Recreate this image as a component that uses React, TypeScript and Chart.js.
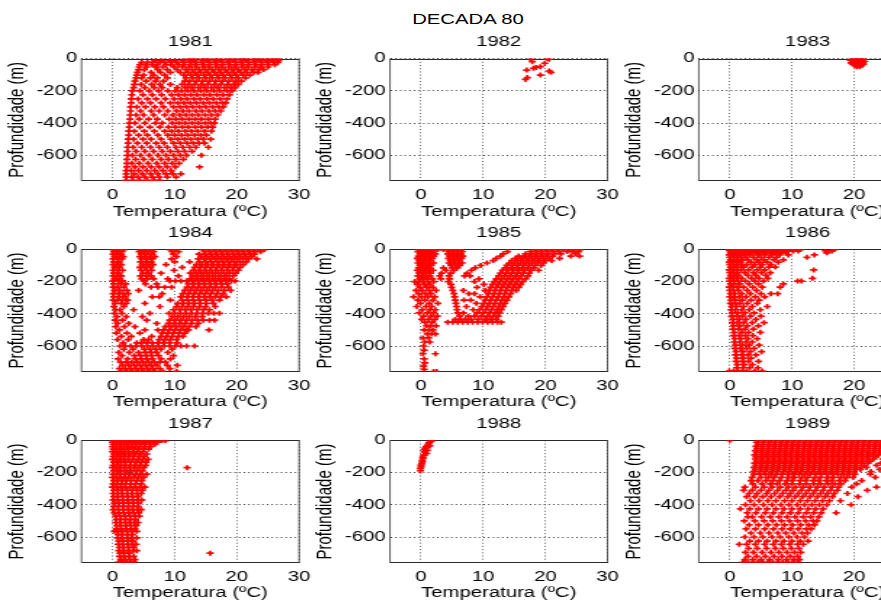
import React, { useEffect, useRef } from "react";
import { Chart, registerables } from "chart.js";

Chart.register(...registerables);

type Rows = [number, number[]][];

// ---------- texts / ticks ----------
const SUPTITLE = "DECADA 80";
const YEARS = ["1981", "1982", "1983", "1984", "1985", "1986", "1987", "1988", "1989"];
const X_LABEL = "Temperatura (ºC)";
const Y_LABEL = "Profundidade (m)";
const X_TICKS = [0, 10, 20, 30];
const Y_TICKS = [0, -200, -400, -600];
const X_MIN = -5;
const X_MAX = 30;
const Y_MIN = -760;
const Y_MAX = 0;

// ---------- data: [depth (m), temperatures (ºC)] ----------
const T1981: Rows = [
  [-2, [12.2, 13.1, 14.3, 15.2, 16.4, 17.3, 18.5, 19.4, 20.6, 21.5, 22.7, 23.6, 24.8, 25.7, 26.6]],
  [-12, [6.8, 7.9, 9.2, 10.1, 11.3, 12.4, 13.2, 14.5, 15.3, 16.6, 17.4, 18.7, 19.5, 20.8, 21.6, 22.9, 23.7, 24.9, 25.8, 26.7]],
  [-24, [4.7, 5.6, 6.5, 7.6, 8.4, 9.5, 10.3, 11.4, 12.5, 13.3, 14.4, 15.6, 16.5, 17.7, 18.6, 19.8, 20.7, 21.9, 22.8, 24, 24.9, 25.9, 26.6]],
  [-38, [4.4, 5.3, 6.4, 7.2, 8.6, 9.4, 10.6, 11.5, 12.6, 13.5, 14.7, 15.6, 16.8, 17.7, 18.9, 19.8, 21, 21.9, 23.1, 24, 25.1, 26.1]],
  [-52, [4.3, 5.5, 6.9, 8.1, 9.9, 11.2, 12.3, 13.4, 14.5, 15.5, 16.6, 17.6, 18.7, 19.7, 20.8, 21.8, 22.9, 23.9, 25]],
  [-68, [4.2, 5.1, 7.3, 8.8, 10.4, 11.8, 12.8, 13.9, 14.9, 16, 17.1, 18.1, 19.2, 20.2, 21.3, 22.4, 23.5, 24.3]],
  [-85, [4, 6.2, 7.7, 9.3, 10.9, 12.1, 13.2, 14.2, 15.3, 16.4, 17.4, 18.5, 19.5, 20.6, 21.6, 22.7, 23.4]],
  [-102, [3.9, 5, 6.6, 8.4, 11.5, 12.6, 13.6, 14.7, 15.7, 16.8, 17.8, 18.9, 19.9, 21, 22.1]],
  [-120, [3.8, 4.7, 6.1, 7.2, 8.8, 11.8, 12.9, 13.9, 15, 16, 17.1, 18.1, 19.2, 20.2, 21.4]],
  [-140, [3.6, 5.4, 6.9, 8.2, 11.6, 12.4, 13.5, 14.5, 15.6, 16.6, 17.7, 18.7, 19.8, 20.7]],
  [-160, [3.5, 4.6, 6.3, 7.6, 9.3, 11.2, 12.2, 13.2, 14.3, 15.3, 16.4, 17.4, 18.5, 19.5, 20.2]],
  [-180, [3.4, 5.2, 6.7, 8, 10.4, 11.7, 12.7, 13.8, 14.8, 15.9, 16.9, 18, 19, 19.7]],
  [-200, [3.2, 4.4, 5.9, 7.4, 8.9, 10.1, 11.1, 12.1, 13.1, 14.2, 15.2, 16.3, 17.3, 18.4, 19.2]],
  [-225, [3.1, 4.9, 6.4, 7.9, 9.5, 10.6, 11.6, 12.6, 13.6, 14.7, 15.7, 16.8, 17.8, 18.8]],
  [-250, [3, 4.1, 5.6, 7, 8.5, 9.9, 11, 12, 13.1, 14.1, 15.2, 16.2, 17.3, 18.4]],
  [-275, [3, 4.7, 6.1, 7.8, 9.3, 10.5, 11.5, 12.5, 13.5, 14.6, 15.6, 16.7, 17.7, 18.2]],
  [-300, [2.9, 3.9, 5.3, 6.8, 8.2, 9.8, 10.9, 11.9, 12.9, 14, 15, 16.1, 17.1, 17.8]],
  [-325, [2.9, 4.5, 6.2, 7.5, 8.9, 10.3, 11.3, 12.3, 13.4, 14.4, 15.5, 16.5, 17.4]],
  [-350, [2.8, 3.8, 5, 6.6, 8.4, 9.7, 10.8, 11.8, 12.8, 13.8, 14.9, 15.9, 16.9]],
  [-375, [2.8, 4.3, 5.8, 7.2, 9.1, 10.2, 11.2, 12.3, 13.3, 14.3, 15.4, 16.5]],
  [-400, [2.7, 3.6, 5.2, 6.9, 8, 9.6, 10.7, 11.7, 12.8, 13.8, 14.9, 15.8, 16.4]],
  [-425, [2.7, 4.4, 6, 7.6, 9, 10.1, 11.2, 12.2, 13.3, 14.3, 15.3, 16.1]],
  [-450, [2.6, 3.5, 5.1, 6.7, 8.4, 9.5, 10.6, 11.7, 12.7, 13.7, 14.8, 15.9]],
  [-475, [2.6, 4.2, 5.6, 7.3, 8.9, 10, 11.1, 12.1, 13.2, 14.2, 15.1]],
  [-500, [2.5, 3.4, 4.9, 6.2, 7.8, 9.4, 10.5, 11.6, 12.6, 13.7, 14.6, 15.8]],
  [-525, [2.5, 4, 5.5, 7, 8.3, 9.8, 10.9, 12, 13, 13.9, 14.8]],
  [-550, [2.4, 3.3, 4.7, 6.1, 7.5, 8.8, 10.2, 11.3, 12.4, 13.4, 15.4]],
  [-575, [2.4, 3.8, 5.2, 6.6, 8, 9.3, 10.5, 11.6, 12.8]],
  [-600, [2.4, 3.2, 4.5, 5.9, 7.3, 8.6, 9.8, 10.9, 11.9, 14.3]],
  [-625, [2.3, 3.7, 5, 6.4, 7.8, 9, 10.2, 11.4]],
  [-650, [2.3, 3.1, 4.3, 5.7, 7.1, 8.4, 9.6, 10.7]],
  [-672, [2.3, 3.6, 4.9, 6.2, 7.5, 8.8, 10.1, 14]],
  [-695, [2.2, 3, 4.2, 5.5, 6.8, 8.1, 9.4]],
  [-715, [2.2, 3.5, 4.8, 6.1, 7.3, 8.6, 9.7, 11]],
  [-735, [2.2, 3.1, 4.1, 5.2, 6.4, 7.5, 8.8, 10.2]],
  [-755, [2.2, 3.3, 4.4, 5.6, 6.7, 7.6]],
];

const T1982: Rows = [
  [0, [17.6, 20.3]],
  [-4, [20.6]],
  [-19, [17.9]],
  [-29, [19.9]],
  [-50, [19.2]],
  [-55, [18.5]],
  [-60, [18.1]],
  [-71, [17]],
  [-77, [20.6]],
  [-85, [20.9]],
  [-102, [19.2]],
  [-118, [17.1]],
  [-129, [16.8]],
];

const T1983: Rows = [
  [-2, [19.8, 20.4, 21, 21.5]],
  [-10, [19.4, 20.1, 20.7, 21.3]],
  [-18, [19.9, 20.5, 21.1, 21.7]],
  [-26, [19.5, 20.2, 20.8, 21.4]],
  [-34, [19.8, 20.4, 21, 21.5]],
  [-42, [20.1, 20.7, 21.2]],
  [-50, [20.4, 20.9]],
];

const T1984: Rows = [
  [-2, [0.1, 0.6, 1.2, 1.8, 4.5, 5.3, 6.1, 9.3, 10.2, 14.5, 15.4, 16.3, 17.2, 18.1, 19, 19.9, 20.8, 21.7, 22.6, 23.5, 24.4]],
  [-15, [0.2, 0.9, 1.5, 4.3, 5, 5.8, 6.6, 9.6, 10.6, 14.8, 15.7, 16.6, 17.5, 18.4, 19.3, 20.2, 21.1, 22, 22.9, 23.8]],
  [-30, [0.1, 0.7, 1.4, 4.6, 5.4, 6.3, 9.8, 13.9, 14.9, 15.8, 16.7, 17.6, 18.5, 19.4, 20.3, 21.2, 22.1, 22.8]],
  [-45, [0.3, 1.1, 1.7, 4.4, 5.2, 6, 6.8, 10.3, 14.3, 15.2, 16.1, 17, 17.9, 18.8, 19.7, 20.6, 21.5, 22.4]],
  [-60, [0.1, 0.8, 1.5, 4.7, 5.6, 6.4, 9.5, 13.8, 14.7, 15.6, 16.5, 17.4, 18.3, 19.2, 20.1, 21, 21.9, 23.2]],
  [-78, [0.2, 1, 4.5, 5.3, 6.2, 10, 12.4, 14, 15, 15.9, 16.9, 17.8, 18.7, 19.6, 20.5, 21.5]],
  [-95, [0.1, 0.7, 1.4, 4.8, 5.7, 6.5, 8.6, 13.5, 14.4, 15.3, 16.2, 17.1, 18, 18.9, 19.9, 21]],
  [-112, [0.3, 1.1, 4.4, 5.2, 6.1, 11.2, 13.2, 14.1, 15, 15.9, 16.8, 17.7, 18.6, 19.5, 20.5]],
  [-130, [0.1, 0.8, 1.6, 4.6, 5.5, 6.3, 9.9, 13, 13.9, 14.8, 15.7, 16.6, 17.5, 18.4, 19.3, 20.2]],
  [-148, [0.2, 1, 4.9, 5.8, 7.8, 12.5, 13.4, 14.3, 15.2, 16.1, 17, 17.9, 18.8, 19.8]],
  [-165, [0.1, 0.7, 1.4, 4.5, 5.4, 6.2, 10.6, 12.9, 13.8, 14.7, 15.6, 16.5, 17.4, 18.3, 19.4]],
  [-183, [0.3, 1.1, 4.7, 5.6, 6.6, 8.9, 12.5, 13.4, 14.3, 15.2, 16.1, 17, 17.9, 18.8]],
  [-196, [0.1, 0.9, 1.6, 5, 9.2, 10.1, 11, 11.9, 12.8, 13.7, 14.6, 15.5, 16.4, 17.3, 18.2, 19.1, 19.7]],
  [-215, [0.2, 1.3, 2.1, 5.3, 7.1, 12.2, 13.1, 14, 14.9, 15.8, 16.7, 17.6, 18.5]],
  [-235, [0.1, 0.8, 1.8, 6.2, 7.3, 8.4, 9.5, 12, 12.9, 13.8, 14.7, 15.6, 16.5, 17.5, 18.6]],
  [-255, [0.3, 1.2, 2.3, 4.2, 11.6, 12.5, 13.4, 14.3, 15.2, 16.1, 17, 18, 19]],
  [-275, [0.1, 0.9, 1.7, 2.5, 8, 11.3, 12.2, 13.1, 14, 14.9, 15.8, 16.8, 17.8]],
  [-295, [0.2, 1.1, 2, 6.4, 7.5, 11, 12, 12.9, 13.8, 14.7, 15.6, 16.5, 17.4, 18.3]],
  [-315, [0.1, 0.8, 1.6, 2.4, 9.3, 11.2, 12.1, 13, 14, 15, 16, 17.2]],
  [-335, [0.4, 1.4, 2.2, 5.2, 10.5, 11.4, 12.3, 13.2, 14.1, 15.1, 16.2]],
  [-355, [0.2, 1.8, 7.6, 10.3, 11.2, 12.1, 13, 14, 15, 16.5]],
  [-375, [0.5, 1.2, 3.4, 9.8, 10.8, 11.7, 12.6, 13.6, 14.6, 15.6]],
  [-397, [0.3, 1.5, 6, 9.1, 10, 10.9, 11.8, 12.7, 13.6, 14.5, 15.4, 16.3, 17.2]],
  [-418, [0.7, 2.2, 4.8, 9.6, 10.5, 11.4, 12.3, 13.3, 14.4]],
  [-440, [0.4, 1.6, 5.5, 9.2, 10.1, 11, 11.9, 12.8, 13.7, 14.6, 15.6, 16.4]],
  [-460, [0.8, 2.6, 7.1, 9, 9.9, 10.8, 11.7, 12.7, 13.8]],
  [-480, [0.5, 1.9, 3.6, 8.5, 9.4, 10.3, 11.3, 12.3, 13.4]],
  [-500, [1.1, 5.2, 7.3, 8.2, 9.1, 10, 10.9, 11.8, 12.2, 15.5]],
  [-520, [0.6, 2.3, 4.4, 8, 8.9, 9.8, 10.7, 11.6]],
  [-540, [1.4, 3, 6.3, 7.8, 8.7, 9.6, 10.6, 11.3]],
  [-560, [0.8, 2.5, 5, 5.8, 7.5, 8.4, 9.3, 10.3]],
  [-580, [1.7, 3.9, 4.6, 5.5, 6.4, 7.3, 8.2, 9.2, 10.4]],
  [-600, [1.2, 2, 2.9, 3.8, 4.7, 5.6, 6.5, 7.4, 8.3, 9.2, 10.1, 11, 11.9, 13.2]],
  [-620, [1.8, 3.3, 5.1, 6, 6.9, 7.8, 9.6]],
  [-640, [1, 2.7, 4.2, 5.3, 6.2, 7.1, 8.9]],
  [-660, [1.5, 3.5, 4.5, 5.4, 6.3, 7.4, 9.8]],
  [-680, [0.9, 2.4, 3.7, 4.6, 5.5, 6.4, 7.8, 9.3]],
  [-700, [1.3, 2.2, 3.1, 4, 4.9, 5.8, 6.7, 7.6, 8.5]],
  [-720, [1.6, 2.6, 3.5, 4.4, 5.3, 6.2, 7.1, 8.8, 10.4]],
  [-740, [1.1, 2, 2.9, 3.8, 4.7, 5.6, 6.5, 7.6, 9.2]],
  [-757, [1.4, 2.3, 3.2, 4.1, 5, 5.9, 6.8, 8.1, 10.3]],
];

const T1985: Rows = [
  [-2, [-0.3, 0.3, 0.9, 1.5, 2.1, 2.7, 3.6, 4.3, 5, 5.7, 6.4, 18.3, 19.2, 20.1, 21, 22, 22.9, 23.8, 24.6, 25.6]],
  [-14, [-0.5, 0.1, 0.7, 1.3, 1.9, 4.5, 5.2, 5.9, 6.6, 13.9, 17.6, 18.5, 19.4, 20.4, 21.3, 22.2, 23.5, 24.4, 25.3]],
  [-28, [-0.2, 0.4, 1, 1.6, 2.3, 4.3, 5, 5.7, 6.4, 13.2, 16.8, 17.7, 18.6, 19.5, 20.4, 21.4, 22.5, 24.9]],
  [-42, [-0.4, 0.2, 0.8, 1.4, 2, 4.6, 5.3, 6, 6.7, 12.8, 15.7, 16.6, 17.5, 18.4, 19.3, 20.2, 21.2, 24.1, 25.5]],
  [-56, [-0.6, 0, 0.6, 1.2, 1.8, 4.4, 5.1, 5.8, 6.5, 12.1, 15.2, 16.1, 17, 17.9, 18.8, 19.7, 20.6, 22.3]],
  [-70, [-0.3, 0.3, 0.9, 1.5, 4.7, 5.4, 6.1, 11.6, 14.6, 15.5, 16.4, 17.3, 18.2, 19.1, 20, 21]],
  [-85, [-0.5, 0.1, 0.7, 1.3, 2, 4.5, 5.2, 5.9, 6.6, 10.6, 14.2, 15.1, 16, 16.9, 17.8, 18.7, 19.7]],
  [-100, [-0.2, 0.4, 1, 1.6, 4.8, 5.5, 6.2, 9.6, 13.8, 14.7, 15.6, 16.5, 17.4, 18.3, 19.3]],
  [-115, [-0.4, 0.2, 0.8, 1.4, 3.6, 5, 5.8, 8.7, 13.6, 14.5, 15.4, 16.3, 17.2, 18.2]],
  [-130, [-0.6, 0, 0.6, 1.2, 1.9, 4, 5.3, 8.1, 13.1, 14, 14.9, 15.8, 16.7, 17.7, 18.9]],
  [-148, [-0.3, 0.3, 0.9, 1.5, 3.3, 4.8, 7.4, 12.8, 13.7, 14.6, 15.5, 16.4, 17.4]],
  [-165, [-0.5, 0.1, 0.7, 1.4, 3, 4.5, 7, 7.9, 12.5, 13.4, 14.3, 15.2, 16.1, 17.2]],
  [-183, [-0.2, 0.4, 1, 1.8, 3.2, 4.6, 9.3, 12.1, 13, 13.9, 14.8, 15.7, 16.8]],
  [-200, [-1, -0.4, 0.3, 1.1, 2, 4.4, 8.6, 11.8, 12.7, 13.6, 14.5, 15.4, 16.3]],
  [-218, [-0.6, 0.5, 1.4, 4.8, 10.1, 11.5, 12.4, 13.3, 14.2, 15.1, 16]],
  [-236, [-0.2, 0.9, 1.9, 4.9, 9, 11.2, 12.1, 13, 13.9, 14.8, 15.7]],
  [-255, [-0.8, 0.2, 1.3, 2.4, 5.1, 6.8, 10.3, 11, 11.9, 12.8, 13.7, 14.6, 15.3]],
  [-275, [-0.4, 0.7, 1.6, 5.3, 7.7, 8.6, 10.8, 11.7, 12.6, 13.5, 14.4]],
  [-295, [-1.2, 0.1, 1.1, 2.2, 5.4, 9.5, 10.6, 11.5, 12.4, 13.3, 14.1]],
  [-315, [-0.5, 0.6, 1.9, 5.5, 6.9, 8, 10.3, 11.2, 12.1, 13, 13.8]],
  [-335, [-0.1, 1.3, 2.7, 5.6, 8.9, 10.1, 11, 11.9, 12.8, 13.5]],
  [-355, [-0.7, 0.8, 1.7, 5.7, 7.3, 9.8, 10.7, 11.6, 12.5, 13.2]],
  [-375, [0.2, 1.4, 2.3, 5.8, 8.4, 9.4, 10.4, 11.3, 12.2, 12.9]],
  [-395, [-0.3, 1, 2, 5.9, 6.8, 9, 10, 11, 11.9, 12.6]],
  [-415, [0.4, 1.6, 2.6, 6.2, 7.6, 8.6, 9.7, 10.7, 11.6, 12.4]],
  [-435, [0.1, 1.2, 2.2, 5.5, 6.3, 7.1, 8, 9.2, 10.3, 11.2, 12.1]],
  [-452, [0.6, 1.8, 4.3, 5.1, 5.9, 6.7, 7.5, 8.3, 9.1, 9.9, 10.7, 11.5, 12.3, 12.9]],
  [-475, [0.9, 1.5, 2.4]],
  [-500, [0.5, 1.3, 1.9]],
  [-525, [1, 1.7, 2.3]],
  [-550, [0.3, 1.2]],
  [-575, [0.6, 1.4]],
  [-600, [0.4]],
  [-625, [0.5]],
  [-648, [0.3, 2.3]],
  [-680, [0.5]],
  [-705, [0.6]],
  [-725, [0.4]],
  [-745, [0.5]],
  [-758, [2, 2.5]],
];

const T1986: Rows = [
  [-2, [-0.1, 0.5, 1.1, 1.7, 2.3, 2.9, 3.5, 4.1, 4.7, 5.3, 5.9, 6.5, 7.1, 7.7, 8.3, 8.9, 9.5, 10.1, 10.7, 11.3, 16.8]],
  [-10, [0, 0.6, 1.2, 1.8, 2.4, 3, 3.6, 4.2, 4.8, 5.4, 6, 6.8, 7.6, 8.4, 9.3, 10.2, 11, 15.4, 16.4]],
  [-22, [0.1, 0.7, 1.3, 1.9, 2.5, 3.3, 4.1, 4.9, 5.7, 6.5, 7.3, 8.1, 9, 15.6]],
  [-35, [-0.1, 0.5, 1.1, 1.7, 2.4, 3.2, 4.5, 5.6, 6.8, 8, 9.4, 13.6]],
  [-50, [0, 0.6, 1.2, 1.8, 2.6, 3.8, 5, 6.3, 7.5, 12.4]],
  [-65, [0.1, 0.7, 1.3, 2, 2.9, 4.3, 5.5, 7.1, 8.6]],
  [-80, [-0.1, 0.5, 1.1, 1.7, 3.4, 4.7, 6, 7.8]],
  [-95, [0, 0.6, 1.2, 1.9, 2.7, 4, 5.2, 6.6]],
  [-110, [0.1, 0.7, 1.3, 2.2, 3.6, 4.9, 6.3, 7.3]],
  [-128, [-0.1, 0.5, 1.1, 1.8, 3, 4.4, 5.6, 13.5]],
  [-145, [0, 0.6, 1.2, 2.4, 3.8, 5.1, 6.5]],
  [-162, [0.1, 0.7, 1.4, 2.9, 4.2, 5.8]],
  [-180, [-0.1, 0.5, 1.1, 1.9, 3.5, 4.7, 6.1, 13.3]],
  [-197, [0, 0.6, 1.3, 2.5, 4, 5.4, 10.9, 11.5]],
  [-215, [0.1, 0.7, 1.6, 3.1, 4.6, 8.6]],
  [-235, [-0.1, 0.5, 1.2, 2.2, 3.7, 5.2, 8.1]],
  [-255, [0, 0.6, 1.4, 2.8, 4.3]],
  [-275, [0.1, 0.8, 1.9, 3.3, 5, 6.6, 7.7]],
  [-295, [0, 0.6, 1.5, 2.6, 4.1, 5.6]],
  [-315, [0.2, 0.9, 2, 3.4, 4.7]],
  [-335, [0.1, 0.8, 1.6, 2.8, 4.4]],
  [-355, [0.3, 1.1, 2.2, 3.6, 6]],
  [-375, [0.2, 0.9, 1.9, 3.1, 4.9]],
  [-395, [0.4, 1.3, 2.4, 3.9]],
  [-415, [0.3, 1.1, 2, 3.3, 5]],
  [-435, [0.5, 1.5, 2.6, 4.2]],
  [-455, [0.4, 1.2, 2.2, 3.6, 5.5]],
  [-475, [0.6, 1.6, 2.8, 4.6]],
  [-495, [0.5, 1.4, 2.4, 3.8]],
  [-515, [0.7, 1.9, 3, 4.9]],
  [-535, [0.6, 1.5, 2.5, 3.7]],
  [-555, [0.8, 1.8, 2.9, 4.4]],
  [-575, [0.7, 1.6, 2.6, 3.6]],
  [-595, [0.9, 2, 3.1, 4.7]],
  [-615, [0.8, 1.7, 2.7, 3.9]],
  [-635, [1, 2.1, 3.3, 5.1]],
  [-655, [0.9, 1.9, 2.9, 4.2]],
  [-675, [1.1, 2.2, 3.4]],
  [-695, [1, 2, 3, 4.6]],
  [-715, [1.2, 2.3, 3.6]],
  [-735, [1.1, 2.1, 3.2, 4.5]],
  [-755, [-0.1, 0.6, 1.3, 2, 2.7, 4, 5.2]],
];

const T1987: Rows = [
  [-2, [0.1, 0.7, 1.3, 1.9, 2.5, 3.1, 3.7, 4.3, 4.9, 5.5, 6.1, 6.7, 7.3, 7.9, 8.5]],
  [-12, [0, 0.6, 1.2, 1.8, 2.4, 3, 3.6, 4.2, 4.8, 5.4, 6, 6.6, 7.2]],
  [-25, [0.1, 0.7, 1.3, 1.9, 2.5, 3.1, 3.8, 4.5, 5.2, 6, 6.8]],
  [-40, [0, 0.6, 1.2, 1.8, 2.4, 3, 3.7, 4.4, 5.2, 6.1]],
  [-55, [0.1, 0.7, 1.3, 1.9, 2.6, 3.4, 4.2, 5, 5.8]],
  [-70, [0, 0.6, 1.2, 1.8, 2.5, 3.3, 4, 4.9]],
  [-85, [0.2, 0.8, 1.4, 2, 2.8, 3.6, 4.5, 5.5]],
  [-100, [0.1, 0.7, 1.3, 1.9, 2.6, 3.4, 4.3, 5.1]],
  [-118, [0, 0.6, 1.2, 1.8, 2.5, 3.3, 4.1, 4.9, 5.7]],
  [-136, [0.2, 0.8, 1.4, 2.1, 2.9, 3.8, 4.6, 5.4]],
  [-155, [0.1, 0.7, 1.3, 2, 2.8, 3.6, 4.4, 5.3]],
  [-170, [0, 0.6, 1.2, 1.9, 2.7, 3.5, 4.3, 5, 12]],
  [-190, [0.2, 0.8, 1.4, 2.2, 3, 3.9, 4.8]],
  [-210, [0.1, 0.7, 1.3, 2, 2.8, 3.7, 4.5, 5.5]],
  [-230, [0, 0.6, 1.2, 1.9, 2.6, 3.4, 4.2, 5]],
  [-250, [0.2, 0.8, 1.5, 2.2, 3, 3.9, 4.7]],
  [-270, [0.1, 0.7, 1.4, 2.1, 2.9, 3.7, 4.6]],
  [-290, [0, 0.6, 1.3, 2, 2.8, 3.6, 4.4, 5.2]],
  [-310, [0.2, 0.9, 1.6, 2.4, 3.2, 4, 4.8]],
  [-330, [0.1, 0.8, 1.5, 2.3, 3.1, 3.9, 4.6]],
  [-350, [0.2, 0.9, 1.7, 2.5, 3.3, 4.1]],
  [-370, [0.1, 0.8, 1.6, 2.4, 3.2, 4, 4.7]],
  [-390, [0.3, 1, 1.8, 2.6, 3.4, 4.2]],
  [-410, [0.2, 0.9, 1.7, 2.5, 3.3, 4.1]],
  [-430, [0.1, 0.9, 1.7, 2.5, 3.2, 4, 4.6]],
  [-450, [0.3, 1, 1.8, 2.6, 3.4, 4.2]],
  [-470, [0.5, 1.2, 2, 2.8, 3.6, 4.3]],
  [-490, [0.6, 1.3, 2.1, 2.9, 3.7]],
  [-510, [0.5, 1.2, 2, 2.7, 3.5, 4.1]],
  [-530, [0.7, 1.4, 2.2, 3, 3.8]],
  [-550, [0.6, 1.3, 2.1, 2.9, 3.6]],
  [-565, [0.3, 0.8, 1.5, 2.3, 3.1, 3.9]],
  [-585, [0.9, 1.6, 2.4, 3.2]],
  [-605, [0.8, 1.5, 2.3, 3, 3.9]],
  [-625, [1, 1.7, 2.5, 3.3]],
  [-645, [0.9, 1.6, 2.4, 3.1, 3.8]],
  [-665, [1.1, 1.8, 2.6, 3.4]],
  [-685, [1, 1.7, 2.5, 3.3, 3.9]],
  [-700, [1.2, 1.9, 2.7, 15.7]],
  [-720, [1.1, 1.8, 2.6, 3.4]],
  [-740, [1.3, 2, 2.8, 3.6]],
  [-755, [1, 1.6, 2.2, 2.9, 3.5]],
];

const T1988: Rows = [
  [0, [1.8]],
  [-4, [1.6]],
  [-14, [1.3]],
  [-21, [1.2]],
  [-31, [1]],
  [-35, [1.4]],
  [-41, [0.8]],
  [-50, [0.7]],
  [-58, [0.5]],
  [-62, [1]],
  [-72, [0.5]],
  [-82, [0.9]],
  [-92, [0.4]],
  [-104, [0.3]],
  [-113, [0.3]],
  [-124, [0.2]],
  [-134, [0.2]],
  [-145, [0.1]],
  [-154, [0]],
  [-165, [0]],
  [-175, [-0.1]],
  [-189, [-0.1]],
];

const T1989: Rows = [
  [0, [0, 4.6, 5.5, 6.6, 7.4, 8.5, 9.3, 10.4, 11.2, 12.3, 13.1, 14.2, 15, 16.1, 16.9, 18, 18.8, 19.9, 20.7, 21.8, 22.6, 23.7, 24.5, 25.6, 26.4]],
  [-12, [4.3, 5.3, 6.2, 7.2, 8.1, 9.1, 10, 11, 11.9, 12.9, 13.8, 14.8, 15.7, 16.7, 17.6, 18.6, 19.5, 20.5, 21.4, 22.4, 23.3, 24.3, 25.2, 26.1]],
  [-25, [4.5, 5.4, 6.4, 7.3, 8.3, 9.2, 10.2, 11.1, 12.1, 13, 14, 14.9, 15.9, 16.8, 17.8, 18.7, 19.7, 20.6, 21.6, 22.5, 23.5, 24.4, 25.4]],
  [-38, [4.2, 5.1, 6.1, 7, 8, 8.9, 9.9, 10.8, 11.8, 12.7, 13.7, 14.6, 15.6, 16.5, 17.5, 18.4, 19.4, 20.3, 21.3, 22.2, 23.2, 24.1, 25]],
  [-51, [4.4, 5.4, 6.3, 7.3, 8.2, 9.2, 10.1, 11.1, 12, 13, 13.9, 14.9, 15.8, 16.8, 17.7, 18.7, 19.6, 20.6, 21.5, 22.5, 23.4, 24.4, 25.1]],
  [-64, [4.1, 5, 6, 6.9, 7.9, 8.8, 9.8, 10.7, 11.7, 12.6, 13.6, 14.5, 15.5, 16.4, 17.4, 18.3, 19.3, 20.2, 21.2, 22.1, 23.1, 24, 24.8]],
  [-77, [4.3, 5.3, 6.2, 7.2, 8.1, 9.1, 10, 11, 11.9, 12.9, 13.8, 14.8, 15.7, 16.7, 17.6, 18.6, 19.5, 20.5, 21.4, 22.4, 23.3, 24.3]],
  [-90, [4, 5, 5.9, 6.9, 7.8, 8.8, 9.7, 10.7, 11.6, 12.6, 13.5, 14.5, 15.4, 16.4, 17.3, 18.3, 19.2, 20.2, 21.1, 22.1, 23, 23.9]],
  [-103, [4.2, 5.2, 6.1, 7.1, 8, 9, 9.9, 10.9, 11.8, 12.8, 13.7, 14.7, 15.6, 16.6, 17.5, 18.5, 19.4, 20.4, 21.3, 22.3, 23.5]],
  [-116, [4.1, 5, 6, 6.9, 7.9, 8.8, 9.8, 10.7, 11.7, 12.6, 13.6, 14.5, 15.5, 16.4, 17.4, 18.3, 19.3, 20.2, 21.2, 22.1, 23.1, 24.6]],
  [-129, [4.3, 5.3, 6.2, 7.2, 8.1, 9.1, 10, 11, 11.9, 12.9, 13.8, 14.8, 15.7, 16.7, 17.6, 18.6, 19.5, 20.5, 21.4, 22.6]],
  [-142, [4, 4.9, 5.9, 6.8, 7.8, 8.7, 9.7, 10.6, 11.6, 12.5, 13.5, 14.4, 15.4, 16.3, 17.3, 18.2, 19.2, 20.1, 21.1, 22.2, 24.3]],
  [-155, [4.2, 5.2, 6.1, 7.1, 8, 9, 9.9, 10.9, 11.8, 12.8, 13.7, 14.7, 15.6, 16.6, 17.5, 18.5, 19.4, 20.4, 21.6, 23.6]],
  [-168, [3.9, 4.9, 5.8, 6.8, 7.7, 8.7, 9.6, 10.6, 11.5, 12.5, 13.4, 14.4, 15.3, 16.3, 17.2, 18.2, 19.1, 20.1, 21.1, 22]],
  [-181, [4.1, 5.1, 6, 7, 7.9, 8.9, 9.8, 10.8, 11.7, 12.7, 13.6, 14.6, 15.5, 16.5, 17.4, 18.4, 19.3, 20.3, 21, 24.1]],
  [-194, [3.8, 4.8, 5.7, 6.7, 7.6, 8.6, 9.5, 10.5, 11.4, 12.4, 13.3, 14.3, 15.2, 16.2, 17.1, 18.1, 19, 20, 22.7]],
  [-210, [3.9, 4.8, 5.7, 6.6, 7.5, 8.4, 9.3, 10.2, 11.1, 12, 12.9, 13.8, 14.7, 15.6, 16.5, 17.4, 18.3, 19.2, 20.1, 22.6]],
  [-230, [3.6, 5, 6.2, 7.1, 8.3, 9.5, 10.4, 11.6, 12.5, 13.7, 14.6, 15.8, 16.7, 17.9, 18.8, 19.8, 23.4]],
  [-250, [3.4, 4.5, 5.8, 6.9, 8, 9.2, 10.1, 11.3, 12.2, 13.4, 14.3, 15.5, 16.4, 17.6, 18.5, 21.2]],
  [-270, [3.7, 5.2, 6.5, 7.6, 8.9, 10, 11.2, 12.3, 13.5, 14.6, 15.8, 16.9, 17.9, 20.4]],
  [-290, [2.4, 4.1, 5.5, 6.8, 8.1, 9.4, 10.6, 11.8, 12.9, 14.1, 15.2, 16.4, 17.5, 19.6, 23.6]],
  [-310, [2.2, 3.6, 5, 6.3, 7.7, 9, 10.2, 11.5, 12.7, 13.8, 15, 16.2, 17.3, 22.1]],
  [-330, [3.1, 4.4, 5.9, 7.2, 8.5, 9.7, 11, 12.2, 13.4, 14.6, 15.7, 16.8, 18.9]],
  [-350, [2.7, 4, 5.3, 6.6, 8, 9.3, 10.5, 11.7, 12.9, 14.1, 15.3, 16.5, 20.6]],
  [-375, [3.3, 4.7, 6.1, 7.4, 8.8, 10, 11.3, 12.5, 13.7, 14.9, 16, 17.8]],
  [-400, [2.5, 3.9, 5.4, 6.8, 8.2, 9.5, 10.8, 12, 13.2, 14.4, 15.6, 19.5]],
  [-425, [1.7, 3.2, 4.6, 6, 7.4, 8.7, 10, 11.3, 12.6, 13.8, 15]],
  [-450, [2.8, 4.2, 5.7, 7, 8.4, 9.7, 11, 12.3, 13.5, 14.7, 17.1]],
  [-475, [2.9, 3.6, 5.1, 6.5, 7.9, 9.2, 10.5, 11.8, 13, 14.3]],
  [-500, [2.3, 4, 5.5, 6.9, 8.3, 9.6, 10.9, 12.2, 13.4, 14]],
  [-525, [3.1, 4.6, 6.1, 7.5, 8.8, 10.1, 11.4, 12.7, 13.6]],
  [-550, [2.6, 4.1, 5.6, 7, 8.4, 9.7, 11, 12.3, 13.1]],
  [-575, [3.4, 4.9, 6.3, 7.7, 9, 10.3, 11.6, 12.5]],
  [-600, [2.4, 3.9, 5.3, 6.8, 8.1, 9.5, 10.8, 12]],
  [-625, [3.2, 4.6, 6, 7.4, 8.7, 10, 11.3, 12.6]],
  [-645, [1.5, 2.7, 4.1, 5.6, 7, 8.3, 9.6, 10.9, 11.8]],
  [-670, [3, 4.4, 5.9, 7.3, 8.6, 9.9, 11.1]],
  [-695, [2.5, 3.8, 5.2, 6.6, 7.9, 9.2, 10.4, 11.4]],
  [-720, [2.9, 4.3, 5.7, 7.1, 8.4, 9.7, 10.9]],
  [-740, [2.4, 3.7, 5, 6.4, 7.8, 9.1, 10.3, 11.2]],
  [-757, [2.1, 2.9, 3.7, 4.5, 5.3, 6.1, 6.9, 7.7, 8.5, 9.3, 10.1, 10.9]],
];

const YEAR_DATA: Rows[] = [T1981, T1982, T1983, T1984, T1985, T1986, T1987, T1988, T1989];

// ---------- layout (page pixels) ----------
const STRETCH = 1.45; // horizontal stretch of the original figure
const COL_LEFT = [81.5, 390, 698.8];
const ROW_TOP = [58.6, 249.3, 440.3];
const BOX_W = 217.5;
const BOX_H = 122.5;
const AXIS_W = 81.5;
const CANVAS_W = 240; // logical
const CANVAS_H = 192;
const TITLE_H = 24.8;
const XAXIS_H = 39;
const FONT_FAMILY = '"Liberation Sans", Arial, Helvetica, sans-serif';
const GRID_COLOR = "rgba(30,30,30,0.85)";
const RED = "#ff0000";

const boxPlugin = {
  id: "axesBox",
  beforeDatasetsDraw(chart: any) {
    const { ctx, chartArea } = chart;
    const { left, top, right, bottom } = chartArea;
    ctx.save();
    ctx.strokeStyle = "#2a2a2a";
    ctx.lineWidth = 1;
    ctx.beginPath();
    ctx.moveTo(left, Math.round(top) + 0.5);
    ctx.lineTo(right, Math.round(top) + 0.5);
    ctx.moveTo(left, Math.round(bottom) - 0.5);
    ctx.lineTo(right, Math.round(bottom) - 0.5);
    ctx.stroke();
    ctx.lineWidth = 0.75;
    ctx.beginPath();
    ctx.moveTo(left, top);
    ctx.lineTo(left, bottom);
    ctx.moveTo(right, top);
    ctx.lineTo(right, bottom);
    ctx.stroke();
    ctx.restore();
  },
};

function Panel({ idx }: { idx: number }) {
  const ref = useRef<HTMLCanvasElement | null>(null);
  const col = idx % 3;
  const row = Math.floor(idx / 3);
  const bl = COL_LEFT[col];
  const bt = ROW_TOP[row];
  const canvasLeft = Math.floor(bl - AXIS_W);
  const canvasTop = Math.floor(bt - TITLE_H - 4);

  useEffect(() => {
    if (!ref.current) return;
    const padL = (bl - AXIS_W - canvasLeft) / STRETCH;
    const yw = AXIS_W / STRETCH;
    const bw = BOX_W / STRETCH;
    const padR = CANVAS_W - padL - yw - bw;
    const padT = bt - TITLE_H - canvasTop;
    const padB = CANVAS_H - padT - TITLE_H - BOX_H - XAXIS_H;
    const font = { family: FONT_FAMILY, size: 14, weight: "normal" as const };
    const yTitleFont = { family: FONT_FAMILY, size: 15, weight: "normal" as const };
    const points = YEAR_DATA[idx].flatMap(([d, ts]) => ts.map((t) => ({ x: t, y: d })));

    const chart = new Chart(ref.current, {
      type: "scatter",
      data: {
        datasets: [
          {
            data: points,
            pointStyle: "cross",
            pointRadius: 2.5,
            pointHoverRadius: 2.5,
            pointBorderWidth: 1.7,
            pointBorderColor: RED,
            pointBackgroundColor: RED,
            borderColor: RED,
            backgroundColor: RED,
          },
        ],
      },
      options: {
        responsive: false,
        animation: false,
        events: [],
        layout: { padding: { left: padL, right: padR, top: padT, bottom: padB } },
        plugins: {
          legend: { display: false },
          tooltip: { enabled: false },
          title: {
            display: true,
            text: YEARS[idx],
            fullSize: false,
            color: "#000",
            font,
            padding: { top: 0, bottom: 8 },
          },
        },
        scales: {
          x: {
            type: "linear",
            min: X_MIN,
            max: X_MAX,
            afterBuildTicks: (a: any) => {
              a.ticks = X_TICKS.map((v) => ({ value: v }));
            },
            afterFit: (s: any) => {
              s.height = XAXIS_H;
            },
            grid: { color: GRID_COLOR, lineWidth: 0.8, drawTicks: false },
            border: { display: false, dash: [1, 2.2] },
            ticks: { color: "#000", font, padding: 5.5, maxRotation: 0, autoSkip: false },
            title: { display: true, text: X_LABEL, color: "#000", font, padding: { top: 0, bottom: 0 } },
          },
          y: {
            type: "linear",
            min: Y_MIN,
            max: Y_MAX,
            afterBuildTicks: (a: any) => {
              a.ticks = Y_TICKS.map((v) => ({ value: v }));
            },
            afterFit: (s: any) => {
              s.width = yw;
            },
            grid: { color: GRID_COLOR, lineWidth: 1, drawTicks: false },
            border: { display: false, dash: [1, 2.2] },
            ticks: { color: "#000", font, padding: 3, autoSkip: false },
            title: { display: true, text: Y_LABEL, color: "#000", font: yTitleFont, padding: { top: 2.6, bottom: 0 } },
          },
        },
      },
      plugins: [boxPlugin],
    } as any);
    return () => chart.destroy();
  }, [idx]);

  return (
    <canvas
      ref={ref}
      width={CANVAS_W}
      height={CANVAS_H}
      style={{
        position: "absolute",
        left: canvasLeft,
        top: canvasTop,
        width: CANVAS_W * STRETCH,
        height: CANVAS_H,
      }}
    />
  );
}

export default function App() {
  return (
    <div
      style={{
        position: "absolute",
        left: 0,
        top: 0,
        width: 881,
        height: 604,
        overflow: "hidden",
        background: "#fff",
      }}
    >
      <div
        style={{
          position: "absolute",
          left: 318,
          top: 10.6,
          width: 300,
          textAlign: "center",
          fontFamily: FONT_FAMILY,
          fontSize: 14,
          lineHeight: "16.8px",
          color: "#000",
          transform: `scaleX(${STRETCH})`,
          transformOrigin: "center",
          whiteSpace: "nowrap",
        }}
      >
        {SUPTITLE}
      </div>
      {YEARS.map((y, i) => (
        <Panel key={y} idx={i} />
      ))}
    </div>
  );
}
